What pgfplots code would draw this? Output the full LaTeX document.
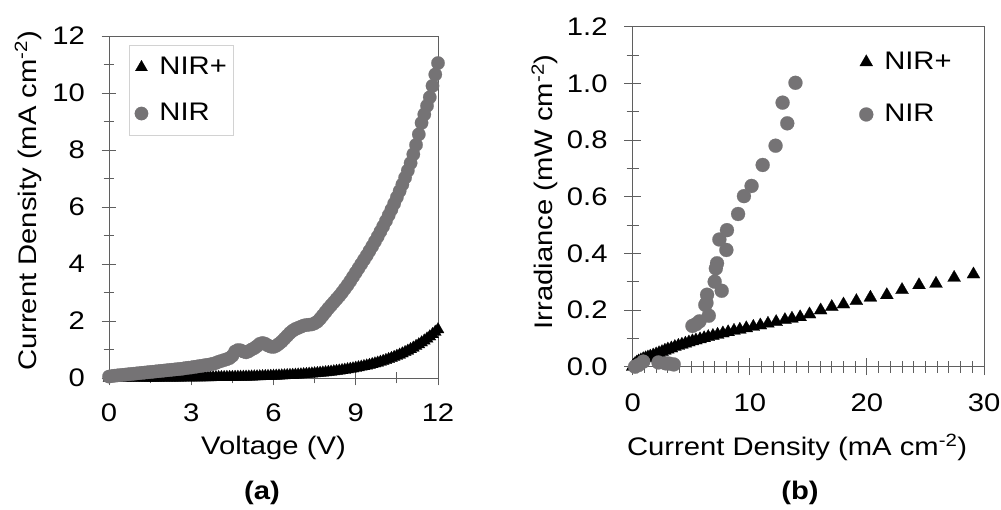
\documentclass[border=0pt]{standalone}
\usepackage{fontspec}
\setmainfont{Liberation Sans}[FakeStretch=1.15]
\usepackage{pgfplots}
\pgfplotsset{compat=1.18}
\definecolor{nirgray}{RGB}{117,115,117}
\definecolor{axgray}{RGB}{95,95,95}
\newcommand{\fs}{\fontsize{25.5}{30}\selectfont}
\begin{document}
\fs
\begin{tikzpicture}
\useasboundingbox (0bp,0bp) rectangle (1001bp,510bp);
\pgfplotsset{
  every axis/.append style={
    scale only axis, clip=false,
    axis line style={draw=axgray, line width=0.9bp},
    every tick/.style={draw=axgray, line width=0.9bp},
    tick pos=left, tick align=center,
    /pgf/number format/assume math mode=true,
    tick label style={font=\fs},
    label style={font=\fs},
    legend style={font=\fs},
    legend cell align=left,
  },
  myleg/.style={legend image code/.code={\path[draw=none,fill=none] (0bp,0bp) rectangle (23bp,0.1bp); \draw[mark repeat=2,mark phase=2] plot coordinates {(0bp,0bp)(7bp,0bp)(7.1bp,0bp)};}},
}
% ---------------- left panel ----------------
\begin{axis}[
  at={(109bp,132bp)}, anchor=south west,
  width=329bp, height=342bp,
  xmin=0, xmax=12, ymin=0, ymax=12,
  xtick={0,3,6,9,12}, ytick={0,2,4,6,8,10,12},
  minor x tick num=1, minor y tick num=1,
  major tick length=15bp, minor tick length=11bp,
  xticklabel style={anchor=north, yshift=-10bp},
  yticklabel style={anchor=east, xshift=-8bp},
  xlabel={Voltage (V)},
  ylabel={Current Density (mA cm\textsuperscript{-2})},
  xlabel style={at={(axis description cs:0.5,0)}, anchor=center, yshift=-70bp},
  ylabel style={at={(axis description cs:-0.246,0.518)}, anchor=center},
  legend style={at={(0.061,0.973)}, anchor=north west, draw=gray!35, line width=0.8bp,
    inner xsep=5bp, inner ysep=9bp, row sep=21bp},
]
\addplot[only marks, mark=triangle*, mark size=7bp, mark options={fill=black, draw=black, line width=0.2bp}, myleg]
coordinates {
(0.0,0.000)(0.1,0.002)(0.2,0.003)(0.3,0.003)(0.4,0.003)(0.5,0.004)(0.6,0.004)(0.7,0.004)(0.8,0.004)(0.9,0.005)
(1.0,0.005)(1.1,0.005)(1.2,0.005)(1.3,0.006)(1.4,0.006)(1.5,0.007)(1.6,0.007)(1.7,0.008)(1.8,0.008)(1.9,0.009)
(2.0,0.009)(2.1,0.010)(2.2,0.010)(2.3,0.011)(2.4,0.011)(2.5,0.012)(2.6,0.012)(2.7,0.013)(2.8,0.013)(2.9,0.014)
(3.0,0.015)(3.1,0.016)(3.2,0.016)(3.3,0.017)(3.4,0.018)(3.5,0.019)(3.6,0.020)(3.7,0.021)(3.8,0.022)(3.9,0.024)
(4.0,0.025)(4.1,0.027)(4.2,0.028)(4.3,0.030)(4.4,0.031)(4.5,0.033)(4.6,0.034)(4.7,0.036)(4.8,0.038)(4.9,0.040)
(5.0,0.042)(5.1,0.045)(5.2,0.047)(5.3,0.050)(5.4,0.053)(5.5,0.055)(5.6,0.058)(5.7,0.062)(5.8,0.065)(5.9,0.069)
(6.0,0.072)(6.1,0.076)(6.2,0.080)(6.3,0.085)(6.4,0.089)(6.5,0.094)(6.6,0.099)(6.7,0.105)(6.8,0.110)(6.9,0.116)
(7.0,0.122)(7.1,0.129)(7.2,0.136)(7.3,0.143)(7.4,0.151)(7.5,0.159)(7.6,0.168)(7.7,0.177)(7.8,0.186)(7.9,0.196)
(8.0,0.207)(8.1,0.218)(8.2,0.230)(8.3,0.243)(8.4,0.256)(8.5,0.270)(8.6,0.284)(8.7,0.300)(8.8,0.316)(8.9,0.333)
(9.0,0.351)(9.1,0.370)(9.2,0.390)(9.3,0.411)(9.4,0.433)(9.5,0.456)(9.6,0.481)(9.7,0.507)(9.8,0.535)(9.9,0.564)
(10.0,0.594)(10.1,0.626)(10.2,0.660)(10.3,0.696)(10.4,0.733)(10.5,0.773)(10.6,0.815)(10.7,0.859)(10.8,0.905)(10.9,0.954)
(11.0,1.006)(11.1,1.060)(11.2,1.118)(11.3,1.178)(11.4,1.242)(11.5,1.309)(11.6,1.380)(11.7,1.455)(11.8,1.533)(11.9,1.616)
(12.0,1.703)
};
\addlegendentry{NIR+}
\addplot[only marks, mark=*, mark size=6.7bp, mark options={fill=nirgray, draw=nirgray, line width=0.2bp}, myleg]
coordinates {
(0.0,0.05)(0.1,0.07)(0.2,0.08)(0.3,0.09)(0.4,0.10)(0.5,0.11)(0.6,0.12)(0.7,0.13)(0.8,0.14)(0.9,0.15)
(1.0,0.16)(1.1,0.17)(1.2,0.18)(1.3,0.19)(1.4,0.20)(1.5,0.21)(1.6,0.22)(1.7,0.23)(1.8,0.24)(1.9,0.25)
(2.0,0.26)(2.1,0.27)(2.2,0.28)(2.3,0.29)(2.4,0.30)(2.5,0.31)(2.6,0.32)(2.7,0.33)(2.8,0.35)(2.9,0.36)
(3.0,0.37)(3.1,0.39)(3.2,0.40)(3.3,0.42)(3.4,0.43)(3.5,0.45)(3.6,0.46)(3.7,0.48)(3.8,0.50)(3.9,0.53)
(4.0,0.57)(4.1,0.60)(4.2,0.63)(4.3,0.66)(4.4,0.70)(4.5,0.78)(4.6,0.93)(4.7,0.98)(4.8,0.97)(4.9,0.93)
(5.0,0.90)(5.1,0.94)(5.2,1.00)(5.3,1.05)(5.4,1.12)(5.5,1.20)(5.6,1.23)(5.7,1.20)(5.8,1.14)(5.9,1.10)
(6.0,1.09)(6.1,1.13)(6.2,1.20)(6.3,1.28)(6.4,1.38)(6.5,1.48)(6.6,1.58)(6.7,1.66)(6.8,1.72)(6.9,1.76)
(7.0,1.80)(7.1,1.84)(7.2,1.86)(7.3,1.87)(7.4,1.88)(7.5,1.92)(7.6,1.98)(7.7,2.08)(7.8,2.20)(7.9,2.32)
(8.0,2.44)(8.1,2.55)(8.2,2.66)(8.3,2.77)(8.4,2.88)(8.5,3.00)(8.6,3.13)(8.7,3.26)(8.8,3.40)(8.9,3.55)
(9.0,3.70)(9.1,3.85)(9.2,4.00)(9.3,4.15)(9.4,4.30)(9.5,4.46)(9.6,4.62)(9.7,4.79)(9.8,4.96)(9.9,5.14)
(10.0,5.32)(10.1,5.51)(10.2,5.71)(10.3,5.91)(10.4,6.12)(10.5,6.34)(10.6,6.56)(10.7,6.79)(10.8,7.03)(10.9,7.28)
(11.0,7.54)(11.1,7.85)(11.2,8.18)(11.3,8.55)(11.4,8.95)(11.5,9.25)(11.6,9.55)(11.7,9.85)(11.8,10.25)(11.9,10.65)
(12.0,11.05)
};
\addlegendentry{NIR}
\draw[axgray, line width=0.9bp] (rel axis cs:0,1) -- (rel axis cs:1,1) -- (rel axis cs:1,0);
\end{axis}
% ---------------- right panel ----------------
\begin{axis}[
  at={(632.7bp,143.3bp)}, anchor=south west,
  width=351.3bp, height=340bp,
  xmin=0, xmax=30, ymin=0, ymax=1.2,
  xtick={0,10,20,30}, ytick={0,0.2,0.4,0.6,0.8,1.0,1.2},
  minor x tick num=9, minor y tick num=1,
  major tick length=17bp, minor tick length=12bp,
  xticklabel style={anchor=north, yshift=-10bp},
  yticklabel style={anchor=east, xshift=-8bp, /pgf/number format/fixed, /pgf/number format/fixed zerofill, /pgf/number format/precision=1},
  xlabel={Current Density (mA cm\textsuperscript{-2})},
  ylabel={Irradiance (mW cm\textsuperscript{-2})},
  xlabel style={at={(axis description cs:0.468,0)}, anchor=center, yshift=-81bp},
  ylabel style={at={(axis description cs:-0.25,0.514)}, anchor=center},
  legend style={at={(0.633,0.951)}, anchor=north west, draw=none, fill=none,
    inner xsep=4bp, inner ysep=6bp, row sep=27bp},
]
\addplot[only marks, mark=triangle*, mark size=7.5bp, mark options={fill=black, draw=black, line width=0.2bp}, myleg]
coordinates {
(0,0.0)(0.1,0.005)(0.2,0.010)(0.35,0.015)(0.5,0.019)(0.7,0.023)(0.9,0.027)(1.1,0.030)(1.3,0.033)(1.5,0.036)
(1.75,0.040)(2.0,0.044)(2.25,0.048)(2.5,0.052)(2.75,0.057)(3.0,0.061)(3.3,0.065)(3.6,0.070)(3.9,0.074)(4.2,0.078)
(4.5,0.082)(4.8,0.086)(5.1,0.090)(5.4,0.093)(5.75,0.097)(6.1,0.101)(6.45,0.105)(6.85,0.109)(7.25,0.113)(7.7,0.118)
(8.15,0.122)(8.65,0.127)(9.15,0.131)(9.7,0.136)(10.3,0.141)(10.9,0.146)(11.55,0.152)(12.25,0.158)(13.0,0.165)(13.6,0.170)
(14.3,0.175)(15.1,0.185)(16.05,0.199)(17.0,0.211)(18.0,0.220)(19.1,0.232)(20.3,0.244)(21.7,0.253)(23.0,0.271)(24.45,0.288)
(25.9,0.293)(27.45,0.314)(29.1,0.326)
};
\addlegendentry{NIR+}
\addplot[only marks, mark=*, mark size=7bp, mark options={fill=nirgray, draw=nirgray, line width=0.2bp}, myleg]
coordinates {
(0.2,0.000)(0.5,0.006)(0.9,0.018)(2.2,0.015)(2.8,0.012)(3.1,0.011)(3.5,0.008)
(5.1,0.144)(5.4,0.150)(5.7,0.160)(6.2,0.218)(6.35,0.254)(6.5,0.180)(6.3,0.225)
(7.0,0.300)(7.1,0.347)(7.2,0.365)(7.6,0.268)(7.4,0.449)(8.0,0.412)(8.05,0.482)
(9.0,0.539)(9.5,0.602)(10.15,0.638)(11.1,0.712)(12.2,0.780)(12.8,0.932)(13.2,0.859)(13.9,1.002)
};
\addlegendentry{NIR}
\draw[axgray, line width=0.9bp] (rel axis cs:0,1) -- (rel axis cs:1,1) -- (rel axis cs:1,0);
\end{axis}
\node[font=\bfseries\fs] at (262bp,17bp) {(a)};
\node[font=\bfseries\fs] at (800bp,17bp) {(b)};
\end{tikzpicture}
\end{document}
